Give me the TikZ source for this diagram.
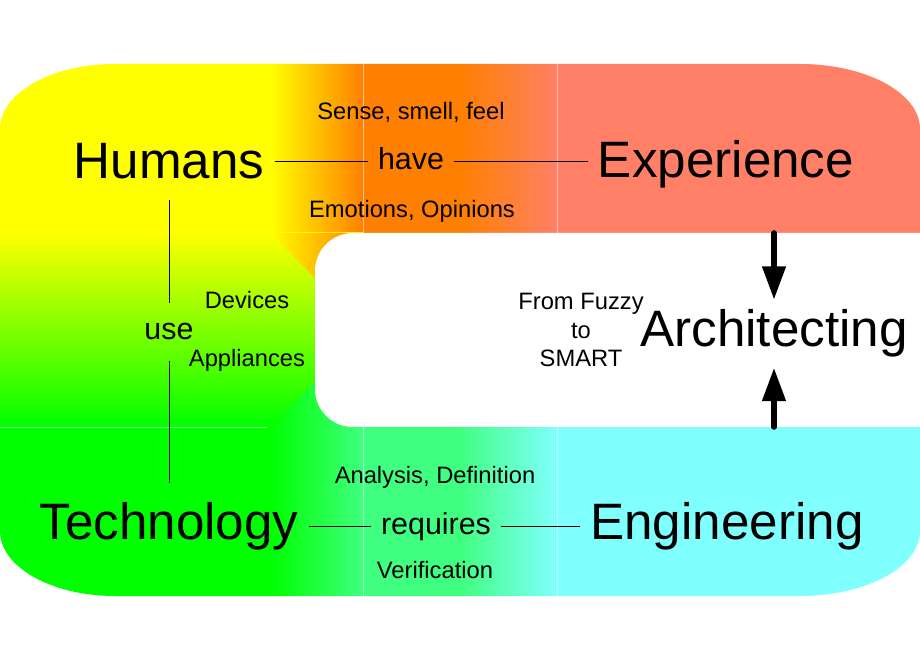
\documentclass[tikz,border=0pt]{standalone}
\usepackage{fontspec}
\setmainfont{Liberation Sans}
\usetikzlibrary{arrows.meta}

\definecolor{hyellow}{RGB}{255,255,0}
\definecolor{horange}{RGB}{255,128,0}
\definecolor{hsalmon}{RGB}{255,128,102}
\definecolor{tgreen}{RGB}{0,255,0}
\definecolor{tmint}{RGB}{64,255,128}
\definecolor{tcyan}{RGB}{128,255,255}

\begin{document}
\begin{tikzpicture}[x=0.75pt,y=0.75pt,
  bigtxt/.style={font=\fontsize{38.4}{46}\selectfont,inner xsep=7.5pt,inner ysep=15pt,anchor=base},
  midtxt/.style={font=\fontsize{22.8}{27}\selectfont,inner xsep=7.5pt,inner ysep=15pt,anchor=base},
  smalltxt/.style={font=\fontsize{17.8}{21.4}\selectfont,anchor=base},
  link/.style={draw,line width=0.75pt},
  push/.style={-{Triangle[width=17pt,length=25pt]},line width=4.2pt,line cap=round},
  seam/.style={draw=white,opacity=0.5,line width=0.6pt}]
\useasboundingbox (0,0) rectangle (920,660);

\begin{scope}
\clip (0,531) arc[start angle=180,end angle=90,x radius=115,y radius=65]
  -- (800,596) arc[start angle=90,end angle=0,x radius=120,y radius=65]
  -- (920,129) arc[start angle=0,end angle=-90,x radius=120,y radius=65]
  -- (115,64) arc[start angle=270,end angle=180,x radius=115,y radius=65] -- cycle;
% top band
\fill[hyellow] (0,427) rectangle (270,660);
\shade[left color=hyellow,right color=horange] (270,427) rectangle (363,660);
\fill[horange] (363,427) rectangle (460,660);
\shade[left color=horange,right color=hsalmon] (460,427) rectangle (557,660);
\fill[hsalmon] (557,427) rectangle (920,660);
% middle band
\shade[top color=hyellow,bottom color=tgreen] (0,233) rectangle (363,427);
\shade[left color=hyellow,right color=horange] (270,427) -- (363,427) -- (363,334) -- cycle;
\shade[left color=tgreen,right color=tmint] (270,233) -- (363,233) -- (363,326) -- cycle;
% bottom band
\fill[tgreen] (0,0) rectangle (270,233);
\shade[left color=tgreen,right color=tmint] (270,0) rectangle (363,233);
\fill[tmint] (363,0) rectangle (460,233);
\shade[left color=tmint,right color=tcyan] (460,0) rectangle (557,233);
\fill[tcyan] (557,0) rectangle (920,233);
\draw[seam] (363,427) -- (363,660) (557,427) -- (557,660)
  (363,0) -- (363,233) (557,0) -- (557,233) (0,233) -- (267,233);
\fill[white,rounded corners=28.5pt] (980,233) -- (315,233) -- (315,427) -- (980,427) -- cycle;
\end{scope}

\node[bigtxt] (humans) at (169,481) {Humans};
\node[midtxt] (have) at (411,490) {have};
\node[smalltxt] (sense) at (411,540) {Sense, smell, feel};
\node[smalltxt] (emotions) at (412,442) {Emotions, Opinions};
\node[bigtxt] (experience) at (726,482) {Experience};
\node[midtxt] (use) at (169,320) {use};
\node[smalltxt] (devices) at (247,351) {Devices};
\node[smalltxt] (appliances) at (247,293) {Appliances};
\node[bigtxt] (technology) at (169,120) {Technology};
\node[midtxt] (requires) at (436,125) {requires};
\node[smalltxt] (analysis) at (435,176) {Analysis, Definition};
\node[smalltxt] (verification) at (435,81) {Verification};
\node[bigtxt] (engineering) at (727,120) {Engineering};
\node[bigtxt,inner ysep=7.5pt] (arch) at (774,313) {Architecting};
\node[smalltxt,anchor=center,align=center] (fuzzy) at (581,330) {From Fuzzy\\to\\SMART};

\draw[link] (humans.east) -- (humans.east -| have.west);
\draw[link] (have.east |- humans.east) -- (experience.west |- humans.east);
\draw[link] (technology.east) -- (technology.east -| requires.west);
\draw[link] (requires.east |- technology.east) -- (engineering.west |- technology.east);
\draw[link] (humans.south) -- (use.north);
\draw[link] (use.south) -- (technology.north);

\coordinate (topedge) at (774,427);
\coordinate (botedge) at (774,233);
\draw[push] (topedge) -- (arch.north);
\draw[push] (botedge) -- (arch.south);
\end{tikzpicture}
\end{document}
